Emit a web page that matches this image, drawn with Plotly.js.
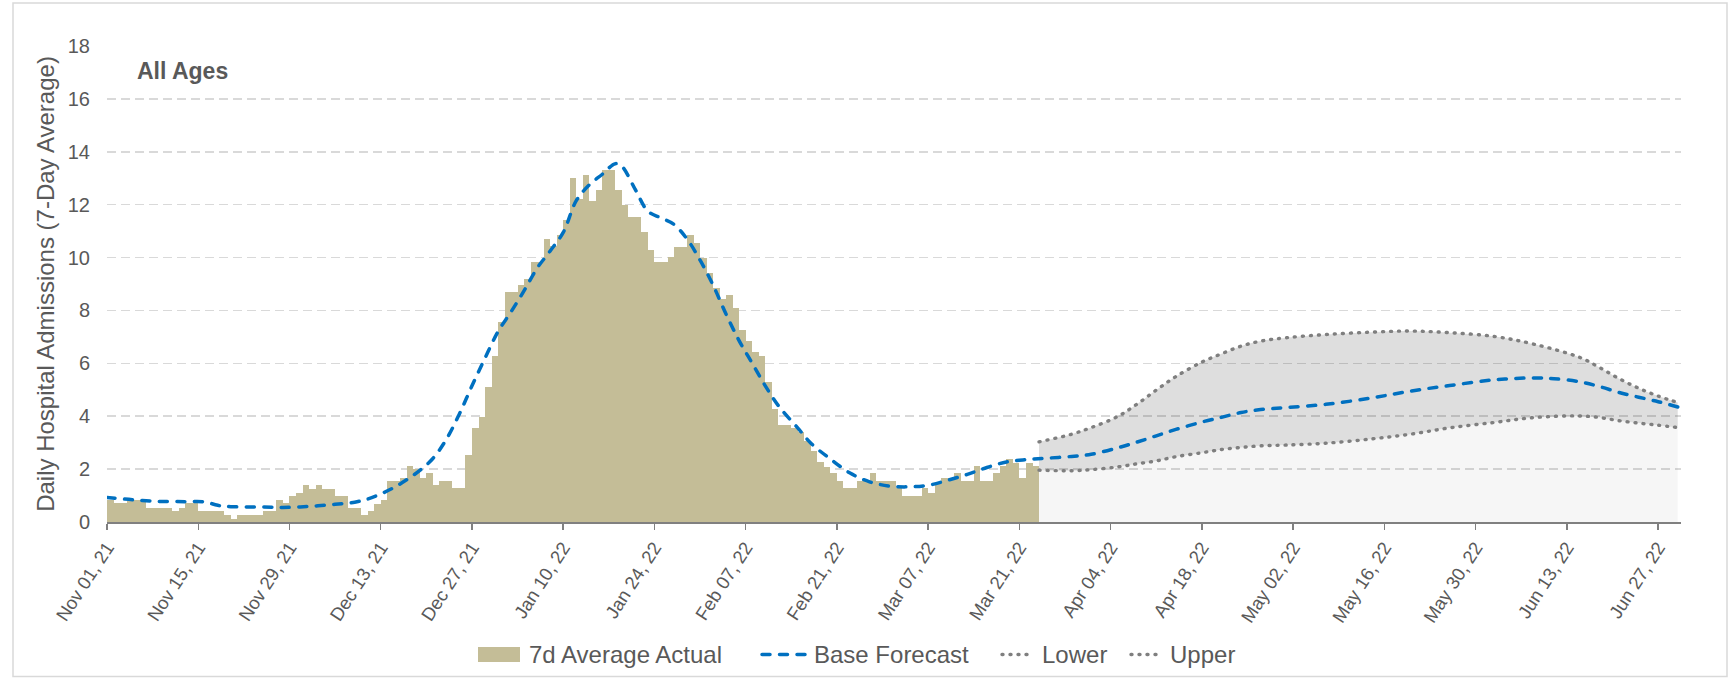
<!DOCTYPE html>
<html>
<head>
<meta charset="utf-8">
<script src="https://cdn.plot.ly/plotly-3.0.1.min.js"></script>
<style>
  html, body { margin: 0; padding: 0; background: #ffffff; }
  #chart { width: 1733px; height: 678px; }
  #chart .js-line, #chart .shapelayer path { stroke-linecap: round; }
</style>
</head>
<body>
<div id="chart"></div>
<script>
// ---------------- DATA ----------------
// 7-day average actual admissions, one value per day starting Nov 01, 2021
const actualStart = '2021-11-01';
const actualValues = [
  0.82, 0.70, 0.70, 0.85, 0.85, 0.85, 0.54, 0.54, 0.54, 0.54,
  0.42, 0.54, 0.70, 0.70, 0.40, 0.40, 0.40, 0.40, 0.25, 0.12,
  0.25, 0.25, 0.25, 0.25, 0.40, 0.40, 0.82, 0.70, 0.98, 1.11,
  1.39, 1.26, 1.39, 1.26, 1.26, 0.98, 0.98, 0.54, 0.54, 0.27,
  0.41, 0.69, 0.84, 1.56, 1.56, 1.68, 2.13, 2.00, 1.68, 1.85,
  1.40, 1.56, 1.56, 1.27, 1.27, 2.54, 3.55, 3.98, 5.12, 6.29,
  7.56, 8.70, 8.70, 8.98, 9.20, 9.85, 9.85, 10.70, 10.42, 10.85,
  11.43, 13.00, 12.20, 13.12, 12.12, 12.56, 13.30, 13.30, 12.56, 12.00,
  11.53, 11.53, 10.97, 10.28, 9.84, 9.84, 10.02, 10.40, 10.40, 10.84,
  10.55, 9.99, 9.42, 8.84, 8.42, 8.57, 8.10, 7.26, 6.85, 6.41,
  6.28, 5.28, 4.26, 3.68, 3.68, 3.56, 3.40, 3.08, 2.69, 2.27,
  2.08, 1.87, 1.56, 1.27, 1.27, 1.56, 1.56, 1.85, 1.56, 1.56,
  1.56, 1.27, 0.99, 0.99, 0.99, 1.27, 1.11, 1.42, 1.68, 1.68,
  1.84, 1.56, 1.56, 2.12, 1.56, 1.56, 1.84, 2.12, 2.40, 2.25,
  1.68, 2.25, 2.13
];

// Base forecast (smoothed curve)
const baseDates = [
  '2021-11-01','2021-11-05','2021-11-09','2021-11-13','2021-11-16','2021-11-18','2021-11-20','2021-11-25','2021-11-28',
  '2021-12-02','2021-12-06','2021-12-09','2021-12-11','2021-12-13','2021-12-15','2021-12-17','2021-12-19','2021-12-21','2021-12-23','2021-12-25','2021-12-27','2021-12-29','2021-12-31',
  '2022-01-02','2022-01-04','2022-01-06','2022-01-08','2022-01-10','2022-01-12','2022-01-14','2022-01-16','2022-01-18','2022-01-19','2022-01-21','2022-01-23','2022-01-25','2022-01-27','2022-01-29','2022-01-31',
  '2022-02-02','2022-02-04','2022-02-06','2022-02-08','2022-02-10','2022-02-12','2022-02-15','2022-02-17','2022-02-20','2022-02-23','2022-02-26',
  '2022-03-01','2022-03-04','2022-03-07','2022-03-10','2022-03-13','2022-03-16','2022-03-19','2022-03-22','2022-03-25','2022-03-29',
  '2022-04-01','2022-04-05','2022-04-08','2022-04-11','2022-04-14','2022-04-18','2022-04-21','2022-04-24','2022-04-27',
  '2022-05-01','2022-05-07','2022-05-14','2022-05-20','2022-05-26',
  '2022-06-02','2022-06-08','2022-06-11','2022-06-15','2022-06-18','2022-06-21','2022-06-24','2022-06-27','2022-06-30'
];
const baseValues = [
  0.93, 0.84, 0.78, 0.77, 0.76, 0.63, 0.58, 0.57, 0.55,
  0.59, 0.67, 0.75, 0.87, 1.06, 1.30, 1.60, 1.95, 2.40, 3.10, 4.05, 5.15, 6.20, 7.20,
  7.95, 8.75, 9.60, 10.25, 10.95, 12.15, 12.75, 13.15, 13.55, 13.45, 12.60, 11.75, 11.50, 11.25, 10.70, 9.90,
  8.95, 7.85, 6.85, 6.00, 5.15, 4.40, 3.55, 2.98, 2.38, 1.85, 1.52,
  1.36, 1.33, 1.39, 1.58, 1.80, 2.06, 2.27, 2.36, 2.41, 2.48,
  2.56, 2.80, 3.02, 3.26, 3.50, 3.78, 3.96, 4.14, 4.25,
  4.33, 4.45, 4.69, 4.95, 5.16,
  5.38, 5.45, 5.42, 5.30, 5.12, 4.90, 4.72, 4.55, 4.35
];

// Forecast interval
const bandDates = [
  '2022-03-24','2022-03-29','2022-04-01','2022-04-05','2022-04-08','2022-04-11','2022-04-14','2022-04-18',
  '2022-04-21','2022-04-24','2022-04-27','2022-05-01','2022-05-07','2022-05-14','2022-05-20','2022-05-26',
  '2022-06-02','2022-06-08','2022-06-15','2022-06-18','2022-06-21','2022-06-24','2022-06-27','2022-06-30'
];
const upperValues = [
  3.03, 3.32, 3.57, 3.98, 4.45, 4.99, 5.50, 6.05,
  6.36, 6.65, 6.84, 6.97, 7.09, 7.18, 7.22, 7.16,
  7.01, 6.72, 6.22, 5.84, 5.42, 5.06, 4.76, 4.52
];
const lowerValues = [
  1.96, 1.94, 1.98, 2.08, 2.20, 2.31, 2.47, 2.62,
  2.74, 2.82, 2.88, 2.91, 2.98, 3.14, 3.32, 3.56,
  3.77, 3.95, 4.01, 3.95, 3.83, 3.74, 3.66, 3.57
];

const yTicks = [0, 2, 4, 6, 8, 10, 12, 14, 16, 18];
const panelLabel = 'All Ages';
const yTitle = 'Daily Hospital Admissions (7-Day Average)';
const seriesNames = ['7d Average Actual', 'Base Forecast', 'Lower', 'Upper'];

// ---------------- STYLE ----------------
const DAY = 86400000;
const FONT = '"Liberation Sans", Arial, sans-serif';
const TXT = '#595959';
const TAN = '#c4bd97';
const BLUE = '#0070c0';
const GRAY = '#7f7f7f';
const BLUE_DASH = '8px,9.5px';
const DOT_DASH = '1px,7px';

// ---------------- BUILD ----------------
function addDays(iso, n) {
  const d = new Date(iso + 'T00:00:00Z');
  d.setUTCDate(d.getUTCDate() + n);
  return d.toISOString().slice(0, 10);
}
const actualDates = actualValues.map((_, i) => addDays(actualStart, i));

const traces = [
  {
    type: 'bar', name: seriesNames[0],
    x: actualDates, y: actualValues,
    width: DAY, offset: 0,
    marker: { color: TAN, line: { width: 0 } },
    hoverinfo: 'x+y'
  },
  {
    type: 'scatter', mode: 'lines', name: 'lower fill', hoverinfo: 'skip',
    x: bandDates, y: lowerValues, fill: 'tozeroy',
    fillcolor: 'rgba(0,0,0,0.035)', line: { width: 0, shape: 'spline', smoothing: 1 }
  },
  {
    type: 'scatter', mode: 'lines', name: 'band fill', hoverinfo: 'skip',
    x: bandDates, y: upperValues, fill: 'tonexty',
    fillcolor: 'rgba(0,0,0,0.13)', line: { width: 0, shape: 'spline', smoothing: 1 }
  },
  {
    type: 'scatter', mode: 'lines', name: seriesNames[1],
    x: baseDates, y: baseValues,
    line: { color: BLUE, width: 3.5, dash: BLUE_DASH, shape: 'spline', smoothing: 1 }
  },
  {
    type: 'scatter', mode: 'lines', name: seriesNames[2],
    x: bandDates, y: lowerValues,
    line: { color: GRAY, width: 3.4, dash: DOT_DASH, shape: 'spline', smoothing: 1 }
  },
  {
    type: 'scatter', mode: 'lines', name: seriesNames[3],
    x: bandDates, y: upperValues,
    line: { color: GRAY, width: 3.4, dash: DOT_DASH, shape: 'spline', smoothing: 1 }
  }
];

// Plot area in pixels (for placing the legend row below the axis)
const M = { l: 107, r: 52, t: 46.4, b: 156.3 };
const PW = 1733 - M.l - M.r, PH = 678 - M.t - M.b;
const px = (x) => (x - M.l) / PW;              // page x -> paper x
const py = (y) => (678 - M.b - y) / PH;         // page y -> paper y
const LEG_Y = 654;

const legendItems = [
  { kind: 'box',  x0: 478, x1: 520, tx: 527,  name: seriesNames[0] },
  { kind: 'blue', x0: 762, x1: 805, tx: 812,  name: seriesNames[1] },
  { kind: 'dot',  x0: 1002, x1: 1034, tx: 1040, name: seriesNames[2] },
  { kind: 'dot',  x0: 1131, x1: 1163, tx: 1168, name: seriesNames[3] }
];

const shapes = [
  {
    type: 'rect', xref: 'paper', yref: 'paper',
    x0: px(13), x1: px(1727), y0: py(676), y1: py(3.5),
    line: { color: '#d9d9d9', width: 1.5 }, fillcolor: 'rgba(0,0,0,0)', layer: 'below'
  }
];
const annotations = [
  {
    xref: 'paper', yref: 'paper', x: px(135), y: py(71),
    xanchor: 'left', yanchor: 'middle', showarrow: false,
    text: '<b>' + panelLabel + '</b>',
    font: { family: FONT, size: 23, color: TXT }
  }
];
legendItems.forEach(it => {
  if (it.kind === 'box') {
    shapes.push({ type: 'rect', xref: 'paper', yref: 'paper',
      x0: px(it.x0), x1: px(it.x1), y0: py(LEG_Y + 7.5), y1: py(LEG_Y - 7.5),
      line: { width: 0 }, fillcolor: TAN });
  } else {
    shapes.push({ type: 'line', xref: 'paper', yref: 'paper',
      x0: px(it.x0), x1: px(it.x1), y0: py(LEG_Y), y1: py(LEG_Y),
      line: it.kind === 'blue'
        ? { color: BLUE, width: 3.5, dash: BLUE_DASH }
        : { color: GRAY, width: 3.4, dash: DOT_DASH } });
  }
  annotations.push({ xref: 'paper', yref: 'paper', x: px(it.tx), y: py(LEG_Y),
    xanchor: 'left', yanchor: 'middle', showarrow: false, text: it.name,
    font: { family: FONT, size: 24, color: TXT } });
});

const layout = {
  width: 1733, height: 678,
  margin: { l: M.l, r: M.r, t: M.t, b: M.b, pad: 0 },
  paper_bgcolor: '#ffffff', plot_bgcolor: '#ffffff',
  font: { family: FONT, color: TXT, size: 19 },
  bargap: 0,
  showlegend: false,
  xaxis: {
    type: 'date',
    range: ['2021-11-01', '2022-06-30 12:00'],
    tick0: '2021-11-01', dtick: 14 * DAY,
    tickformat: '%b %d, %y',
    tickangle: -57,
    tickfont: { family: FONT, size: 18.5, color: TXT },
    ticks: 'outside', ticklen: 6, tickwidth: 1.5, tickcolor: '#808080',
    showline: true, linecolor: '#808080', linewidth: 1.5,
    showgrid: false, zeroline: false, fixedrange: true, automargin: false
  },
  yaxis: {
    range: [0, 18],
    tickvals: yTicks,
    tickfont: { family: FONT, size: 20, color: TXT },
    ticklabelstandoff: 16,
    showgrid: true, gridcolor: '#d9d9d9', gridwidth: 1.5, griddash: '9px,5px',
    zeroline: false, showline: false, ticks: '',
    title: { text: yTitle, font: { family: FONT, size: 24, color: TXT }, standoff: 6 },
    fixedrange: true, automargin: false
  },
  annotations: annotations,
  shapes: shapes
};

Plotly.newPlot('chart', traces, layout, { displayModeBar: false, staticPlot: true });
</script>
</body>
</html>
